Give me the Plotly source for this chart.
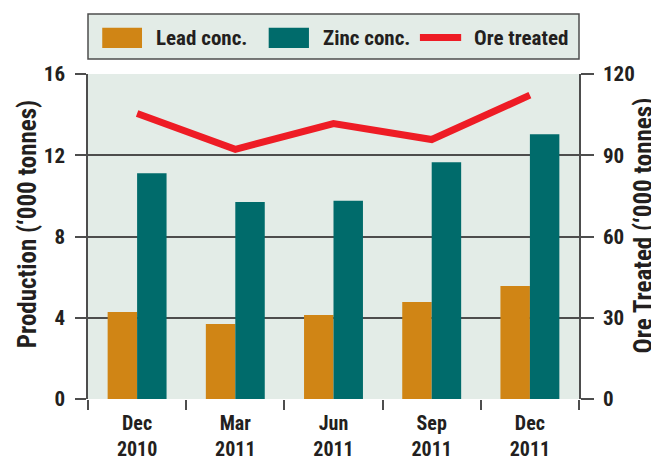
import plotly.graph_objects as go

categories = ["Dec<br>2010", "Mar<br>2011", "Jun<br>2011", "Sep<br>2011", "Dec<br>2011"]
lead_conc = [4.28, 3.69, 4.13, 4.77, 5.56]
zinc_conc = [11.12, 9.70, 9.76, 11.66, 13.03]
ore_treated = [105.4, 92.2, 101.7, 95.8, 112.2]

FONT = "Roboto Condensed, DejaVu Sans Condensed, sans-serif"
LEAD = "#D08515"
ZINC = "#006B6B"
RED = "#EE1C25"
BG = "#E3ECE7"
GRID = "#4D4D4D"
TXT = "#231F20"


def f(size):
    return dict(family=FONT, size=size, color=TXT, weight="bold")


fig = go.Figure()
fig.add_trace(go.Bar(x=categories, y=lead_conc, name="Lead conc.", marker_color=LEAD,
                     marker_line_width=0, showlegend=False))
fig.add_trace(go.Bar(x=categories, y=zinc_conc, name="Zinc conc.", marker_color=ZINC,
                     marker_line_width=0, showlegend=False))
fig.add_trace(go.Scatter(x=categories, y=ore_treated, name="Ore treated", yaxis="y2",
                         mode="lines", line=dict(color=RED, width=7), showlegend=False))

fig.update_layout(
    width=659, height=462,
    # page body has an 8px default margin, compensated here
    margin=dict(l=80, r=88, t=66, b=71),
    paper_bgcolor="white",
    plot_bgcolor=BG,
    barmode="group",
    bargap=0.40,
    bargroupgap=0,
    xaxis=dict(
        type="category",
        tickson="boundaries",
        ticks="outside", ticklen=10, tickwidth=1.5, tickcolor=GRID,
        showgrid=False, showline=False, zeroline=False,
        tickfont=f(20),
        ticklabelstandoff=10,
        range=[-0.5, 4.5],
        automargin=False,
    ),
    yaxis=dict(
        range=[0, 16], dtick=4, tick0=0,
        showgrid=True, gridcolor=GRID, gridwidth=1.5,
        ticks="outside", ticklen=11, tickwidth=1.5, tickcolor=GRID,
        showline=True, linecolor=GRID, linewidth=1.5,
        zeroline=False,
        tickfont=f(21),
        ticklabelstandoff=6,
        automargin=False,
    ),
    yaxis2=dict(
        range=[0, 120], dtick=30, tick0=0,
        overlaying="y", side="right",
        showgrid=False,
        ticks="outside", ticklen=13, tickwidth=1.5, tickcolor=GRID,
        showline=True, linecolor=GRID, linewidth=1.5,
        zeroline=False,
        tickfont=f(21),
        ticklabelstandoff=5,
        automargin=False,
    ),
)

# Manual legend box
shapes = [
    dict(type="rect", xref="paper", yref="paper", x0=0, x1=1, y0=1.046, y1=1.185,
         fillcolor=BG, line=dict(color=GRID, width=1.5), layer="below"),
    dict(type="rect", xref="paper", yref="paper", x0=0.029, x1=0.110, y0=1.080, y1=1.142,
         fillcolor=LEAD, line=dict(width=0)),
    dict(type="rect", xref="paper", yref="paper", x0=0.368, x1=0.450, y0=1.080, y1=1.142,
         fillcolor=ZINC, line=dict(width=0)),
    dict(type="line", xref="paper", yref="paper", x0=0.676, x1=0.760, y0=1.112, y1=1.112,
         line=dict(color=RED, width=7)),
]
annotations = [
    dict(text="Lead conc.", xref="paper", yref="paper", x=0.134, y=1.112,
         xanchor="left", yanchor="middle", showarrow=False, font=f(21)),
    dict(text="Zinc conc.", xref="paper", yref="paper", x=0.475, y=1.112,
         xanchor="left", yanchor="middle", showarrow=False, font=f(21)),
    dict(text="Ore treated", xref="paper", yref="paper", x=0.782, y=1.112,
         xanchor="left", yanchor="middle", showarrow=False, font=f(21)),
    # axis titles
    dict(text="Production (‘000 tonnes)", xref="paper", yref="paper", x=-0.1242, y=0.538,
         xanchor="center", yanchor="middle", textangle=-90, showarrow=False, font=f(25)),
    dict(text="Ore Treated (‘000 tonnes)", xref="paper", yref="paper", x=1.131, y=0.535,
         xanchor="center", yanchor="middle", textangle=-90, showarrow=False, font=f(25)),
]
fig.update_layout(shapes=shapes, annotations=annotations)

fig.write_html("out.html")
